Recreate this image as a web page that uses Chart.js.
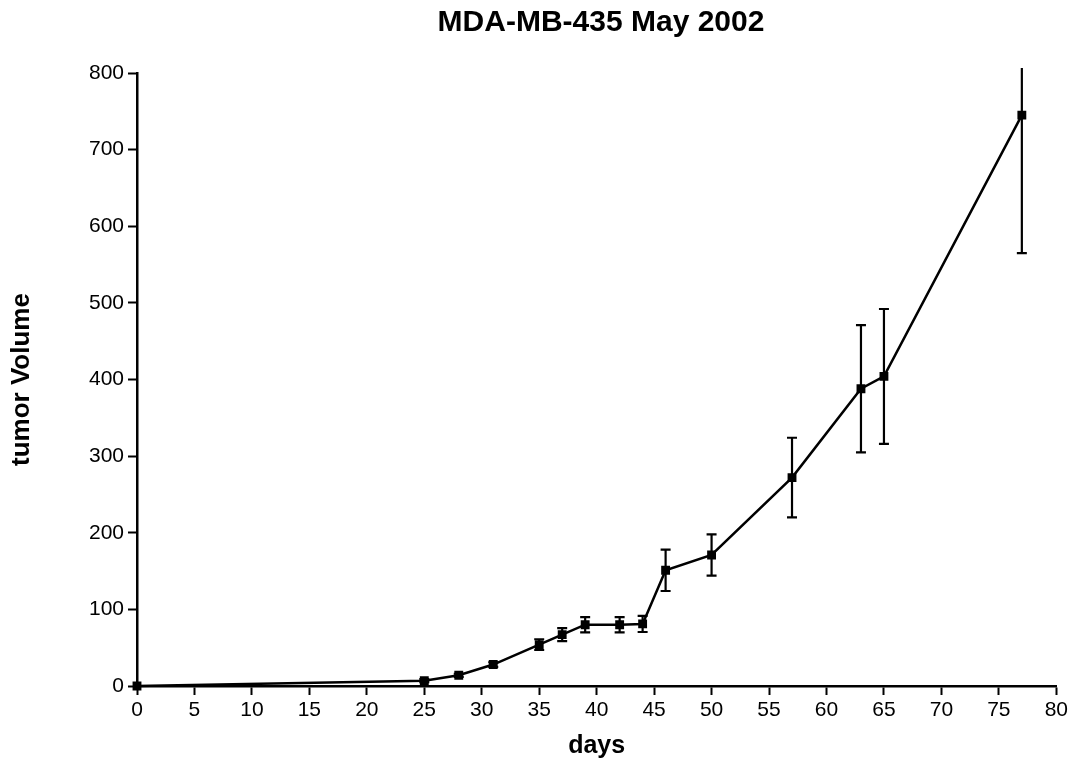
<!DOCTYPE html>
<html>
<head>
<meta charset="utf-8">
<script src="https://cdn.jsdelivr.net/npm/chart.js@4"></script>
<style>
  html, body { margin: 0; padding: 0; background: #fff; }
  #wrap { width: 1071px; height: 758px; position: relative; }
</style>
</head>
<body>
<div id="wrap"><canvas id="c" width="1071" height="758"></canvas></div>
<script>
// ---- data ----
const chartTitle = "MDA-MB-435 May 2002";
const xTitle = "days";
const yTitle = "tumor Volume";
const days = [0, 25, 28, 31, 35, 37, 39, 42, 44, 46, 50, 57, 63, 65, 77];
const tumorVolume = [0, 7, 14, 28, 54, 67, 80, 80, 81, 151, 171, 272, 388, 404, 745];
const errorSize = [0, 2, 2, 3, 7, 8.5, 10, 10, 10.5, 27, 27, 52, 83, 88, 180];
const xTicks = [0, 5, 10, 15, 20, 25, 30, 35, 40, 45, 50, 55, 60, 65, 70, 75, 80];
const yTicks = [0, 100, 200, 300, 400, 500, 600, 700, 800];

const points = days.map((d, i) => ({ x: d, y: tumorVolume[i] }));

const errorBarPlugin = {
  id: 'errorBars',
  afterDatasetsDraw(chart) {
    const ctx = chart.ctx;
    const xs = chart.scales.x, ys = chart.scales.y;
    const area = chart.chartArea;
    ctx.save();
    ctx.beginPath();
    ctx.rect(area.left - 20, area.top - 5, area.right - area.left + 40, area.bottom - area.top + 10);
    ctx.clip();
    ctx.strokeStyle = '#000';
    ctx.lineWidth = 2.2;
    const capHalf = 5;
    days.forEach((d, i) => {
      const e = errorSize[i];
      if (!e) return;
      const px = xs.getPixelForValue(d);
      const pTop = ys.getPixelForValue(tumorVolume[i] + e);
      const pBot = ys.getPixelForValue(tumorVolume[i] - e);
      ctx.beginPath();
      ctx.moveTo(px, pTop); ctx.lineTo(px, pBot);
      ctx.moveTo(px - capHalf, pTop); ctx.lineTo(px + capHalf, pTop);
      ctx.moveTo(px - capHalf, pBot); ctx.lineTo(px + capHalf, pBot);
      ctx.stroke();
    });
    ctx.restore();
  }
};

const titlePlugin = {
  id: 'centeredTitle',
  afterDraw(chart) {
    const ctx = chart.ctx;
    const a = chart.chartArea;
    ctx.save();
    ctx.fillStyle = '#000';
    ctx.font = 'bold 30px "Liberation Sans", Arial, sans-serif';
    ctx.textAlign = 'center';
    ctx.textBaseline = 'middle';
    ctx.fillText(chartTitle, 601, 23);
    ctx.restore();
  }
};

new Chart(document.getElementById('c'), {
  type: 'scatter',
  data: {
    datasets: [{
      data: points,
      showLine: true,
      borderColor: '#000',
      backgroundColor: '#000',
      borderWidth: 2.5,
      pointStyle: 'rect',
      pointRadius: 4.5,
      pointHoverRadius: 4.5,
      tension: 0,
      clip: false
    }]
  },
  options: {
    responsive: false,
    animation: false,
    devicePixelRatio: 1,
    layout: { padding: { left: 0, right: 14, top: 73, bottom: 0 } },
    plugins: { legend: { display: false }, tooltip: { enabled: false }, title: { display: false } },
    scales: {
      x: {
        type: 'linear', min: 0, max: 80,
        afterBuildTicks(scale) { scale.ticks = xTicks.map(v => ({ value: v })); },
        afterFit(scale) { scale.height = 72; },
        grid: { display: true, drawOnChartArea: false, drawTicks: true, tickLength: 9, tickColor: '#000', tickWidth: 2 },
        border: { display: true, color: '#000', width: 2.5 },
        ticks: { color: '#000', font: { family: '"Liberation Sans", Arial, sans-serif', size: 21 }, padding: 3, maxRotation: 0, autoSkip: false },
        title: { display: true, text: xTitle, color: '#000', font: { family: '"Liberation Sans", Arial, sans-serif', size: 25, weight: 'bold' }, padding: { top: 0, bottom: -3 } }
      },
      y: {
        type: 'linear', min: 0, max: 800,
        afterBuildTicks(scale) { scale.ticks = yTicks.map(v => ({ value: v })); },
        afterFit(scale) { scale.width = 137; },
        grid: { display: true, drawOnChartArea: false, drawTicks: true, tickLength: 9, tickColor: '#000', tickWidth: 2 },
        border: { display: true, color: '#000', width: 2.5 },
        ticks: { color: '#000', font: { family: '"Liberation Sans", Arial, sans-serif', size: 21 }, padding: 4, autoSkip: false },
        title: { display: true, text: yTitle, color: '#000', font: { family: '"Liberation Sans", Arial, sans-serif', size: 26, weight: 'bold' }, padding: { top: 6, bottom: 0 } }
      }
    }
  },
  plugins: [errorBarPlugin, titlePlugin]
});
</script>
</body>
</html>
